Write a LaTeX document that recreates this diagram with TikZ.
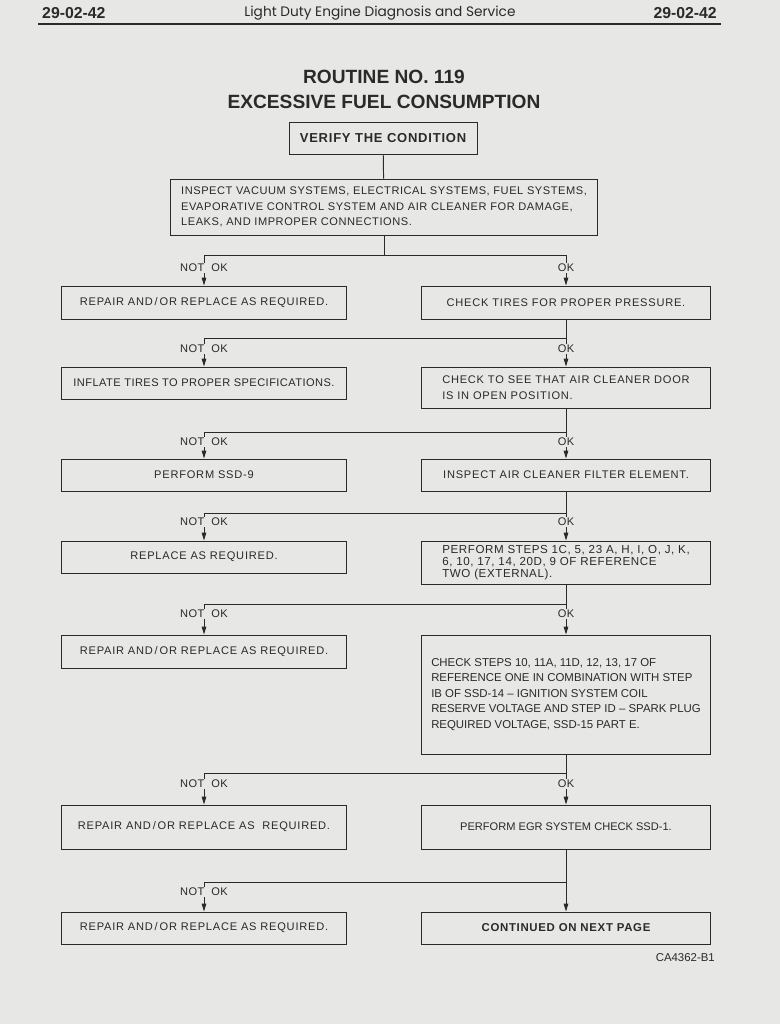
\documentclass[tikz,border=0pt]{standalone}
\usepackage{fontspec}
\setmainfont{Liberation Sans}
\newfontfamily\headfont{Poppins}
\usetikzlibrary{
	arrows.meta,
	positioning
}
\definecolor{paper}{RGB}{231,231,229}
\definecolor{ink}{RGB}{42,42,42}

\begin{document}
\begin{tikzpicture}[
    x=0.02cm, y=-0.02cm,
    every node/.style={text=ink},
    box/.style={rectangle, draw=ink, line width=0.55pt, inner sep=2pt, align=center, font=\fontsize{6.3}{8.8}\selectfont\addfontfeature{LetterSpace=7}},
    lbox/.style={box, minimum width=5.72cm},
    rbox/.style={box, minimum width=5.78cm},
    tight/.style={font=\fontsize{6.3}{6.9}\selectfont},
    tag/.style={fill=paper, inner sep=0.8pt, font=\fontsize{6.3}{7}\selectfont\addfontfeature{LetterSpace=4}},
    line/.style={draw=ink, line width=0.55pt},
    arrow/.style={line, -{Triangle[length=4.5pt,width=2.6pt]}}
]
\fill[paper] (0,0) rectangle (780,1024);

% Header
\node[font=\bfseries\fontsize{9}{10}\selectfont, anchor=west] (pgleft) at (36,13) {29-02-42};
\node[font=\headfont\fontsize{7.8}{10}\selectfont] (runhead) at (380,13) {Light Duty Engine Diagnosis and Service};
\node[font=\bfseries\fontsize{9}{10}\selectfont, anchor=east] (pgright) at (723,13) {29-02-42};
\draw[ink, line width=0.9pt] (38,24) -- (721,24);

% Title
\node[font=\bfseries\fontsize{10.9}{14.2}\selectfont, align=center] (title) at (384,89) {ROUTINE NO. 119\\EXCESSIVE FUEL CONSUMPTION};

% Nodes
\node[box, minimum width=3.76cm, minimum height=0.64cm, font=\bfseries\fontsize{7.4}{9}\selectfont\addfontfeature{LetterSpace=6}] (verify) at (383,138) {VERIFY THE CONDITION};

\node[box, minimum width=8.56cm, minimum height=1.12cm, align=left, font=\fontsize{6.3}{8.8}\selectfont\addfontfeature{LetterSpace=5}] (inspect) at (384,207) {INSPECT VACUUM SYSTEMS, ELECTRICAL SYSTEMS, FUEL SYSTEMS,\\EVAPORATIVE CONTROL SYSTEM AND AIR CLEANER FOR DAMAGE,\\LEAKS, AND IMPROPER CONNECTIONS.};

\node[lbox, minimum height=0.66cm] (nok1) at (204,302.5) {REPAIR AND\,/\,OR REPLACE AS REQUIRED.};
\node[rbox, minimum height=0.66cm] (ok1) at (566,302.5) {CHECK TIRES FOR PROPER PRESSURE.};

\node[lbox, minimum height=0.64cm, font=\fontsize{6.3}{8.8}\selectfont\addfontfeature{LetterSpace=4}] (nok2) at (204,383) {INFLATE TIRES TO PROPER SPECIFICATIONS.};
\node[rbox, minimum height=0.82cm, align=left] (ok2) at (566,387.5) {CHECK TO SEE THAT AIR CLEANER DOOR\\IS IN OPEN POSITION.};

\node[lbox, minimum height=0.64cm] (nok3) at (204,475) {PERFORM SSD-9};
\node[rbox, minimum height=0.64cm] (ok3) at (566,475) {INSPECT AIR CLEANER FILTER ELEMENT.};

\node[lbox, minimum height=0.64cm] (nok4) at (204,557) {REPLACE AS REQUIRED.};
\node[rbox, minimum height=0.86cm, align=left, font=\fontsize{6.6}{6.9}\selectfont\addfontfeature{LetterSpace=5}] (ok4) at (566,562.5) {PERFORM STEPS 1C, 5, 23 A, H, I, O, J, K,\\6, 10, 17, 14, 20D, 9 OF REFERENCE\\TWO (EXTERNAL).};

\node[lbox, minimum height=0.66cm] (nok5) at (204,651.5) {REPAIR AND\,/\,OR REPLACE AS REQUIRED.};
\node[rbox, minimum height=2.38cm, align=left, font=\fontsize{6.5}{8.8}\selectfont] (ok5) at (566,694.5) {CHECK STEPS 10, 11A, 11D, 12, 13, 17 OF\\REFERENCE ONE IN COMBINATION WITH STEP\\IB OF SSD-14 -- IGNITION SYSTEM COIL\\RESERVE VOLTAGE AND STEP ID -- SPARK PLUG\\REQUIRED VOLTAGE, SSD-15 PART E.};

\node[lbox, minimum height=0.88cm] (nok6) at (204,827) {REPAIR AND\,/\,OR REPLACE AS\ \ REQUIRED.};
\node[rbox, tight, minimum height=0.88cm] (ok6) at (566,827) {PERFORM EGR SYSTEM CHECK SSD-1.};

\node[lbox, minimum height=0.64cm] (nok7) at (204,928) {REPAIR AND\,/\,OR REPLACE AS REQUIRED.};
\node[rbox, minimum height=0.64cm, font=\bfseries\fontsize{6.5}{8}\selectfont\addfontfeature{LetterSpace=6}] (more) at (566,928) {CONTINUED ON NEXT PAGE};

\node[font=\fontsize{6.5}{8}\selectfont, anchor=east] (figid) at (721,958) {CA4362-B1};

% Branch points
\coordinate (j1) at (384,255);
\coordinate (j2) at (566,338);
\coordinate (j3) at (566,432);
\coordinate (j4) at (566,513);
\coordinate (j5) at (566,604);
\coordinate (j6) at (566,773);
\coordinate (j7) at (566,882);

% Connectors
\draw[line] (verify) -- (inspect);
\draw[line] (inspect) -- (j1);
\draw[arrow] (j1) -| (nok1.north);
\draw[arrow] (j1) -| (ok1.north);

\draw[arrow] (ok1) -- (ok2);
\draw[arrow] (j2) -| (nok2.north);
\draw[arrow] (ok2) -- (ok3);
\draw[arrow] (j3) -| (nok3.north);
\draw[arrow] (ok3) -- (ok4);
\draw[arrow] (j4) -| (nok4.north);
\draw[arrow] (ok4) -- (ok5);
\draw[arrow] (j5) -| (nok5.north);
\draw[arrow] (ok5) -- (ok6);
\draw[arrow] (j6) -| (nok6.north);
\draw[arrow] (ok6) -- (more);
\draw[arrow] (j7) -| (nok7.north);

% Labels
\node[tag] (n1) at (204,268) {NOT\ \ OK};
\node[tag] (o1) at (566,268) {OK};
\node[tag] (n2) at (204,349) {NOT\ \ OK};
\node[tag] (o2) at (566,349) {OK};
\node[tag] (n3) at (204,442) {NOT\ \ OK};
\node[tag] (o3) at (566,442) {OK};
\node[tag] (n4) at (204,522) {NOT\ \ OK};
\node[tag] (o4) at (566,522) {OK};
\node[tag] (n5) at (204,614) {NOT\ \ OK};
\node[tag] (o5) at (566,614) {OK};
\node[tag] (n6) at (204,784) {NOT\ \ OK};
\node[tag] (o6) at (566,784) {OK};
\node[tag] (n7) at (204,892) {NOT\ \ OK};

\end{tikzpicture}
\end{document}
